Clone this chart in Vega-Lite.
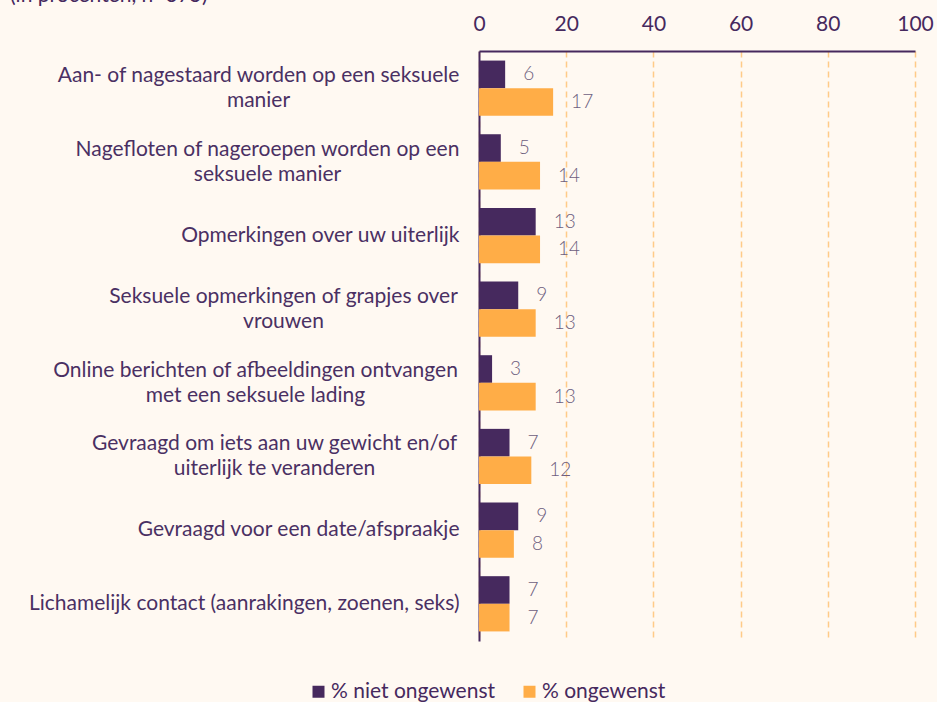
{
  "$schema": "https://vega.github.io/schema/vega-lite/v6.json",
  "width": 436,
  "height": 590,
  "autosize": "none",
  "padding": {"left": 479, "top": 51, "right": 22, "bottom": 61},
  "background": "#FFF9F2",
  "config": {"view": {"stroke": null}, "font": "Lato"},
  "title": {
    "text": "(in procenten, n=375)",
    "anchor": "start",
    "frame": "group",
    "dx": -469,
    "dy": 16,
    "offset": 6,
    "baseline": "alphabetic",
    "fontSize": 21,
    "fontWeight": "normal",
    "color": "#46295E"
  },
  "data": {
    "values": [
      {"item": "Aan- of nagestaard worden op een seksuele|manier", "serie": "% niet ongewenst", "value": 6},
      {"item": "Aan- of nagestaard worden op een seksuele|manier", "serie": "% ongewenst", "value": 17},
      {"item": "Nagefloten of nageroepen worden op een|seksuele manier", "serie": "% niet ongewenst", "value": 5},
      {"item": "Nagefloten of nageroepen worden op een|seksuele manier", "serie": "% ongewenst", "value": 14},
      {"item": "Opmerkingen over uw uiterlijk", "serie": "% niet ongewenst", "value": 13},
      {"item": "Opmerkingen over uw uiterlijk", "serie": "% ongewenst", "value": 14},
      {"item": "Seksuele opmerkingen of grapjes over|vrouwen", "serie": "% niet ongewenst", "value": 9},
      {"item": "Seksuele opmerkingen of grapjes over|vrouwen", "serie": "% ongewenst", "value": 13},
      {"item": "Online berichten of afbeeldingen ontvangen|met een seksuele lading", "serie": "% niet ongewenst", "value": 3},
      {"item": "Online berichten of afbeeldingen ontvangen|met een seksuele lading", "serie": "% ongewenst", "value": 13},
      {"item": "Gevraagd om iets aan uw gewicht en/of|uiterlijk te veranderen", "serie": "% niet ongewenst", "value": 7},
      {"item": "Gevraagd om iets aan uw gewicht en/of|uiterlijk te veranderen", "serie": "% ongewenst", "value": 12},
      {"item": "Gevraagd voor een date/afspraakje", "serie": "% niet ongewenst", "value": 9},
      {"item": "Gevraagd voor een date/afspraakje", "serie": "% ongewenst", "value": 8},
      {"item": "Lichamelijk contact (aanrakingen, zoenen, seks)", "serie": "% niet ongewenst", "value": 7},
      {"item": "Lichamelijk contact (aanrakingen, zoenen, seks)", "serie": "% ongewenst", "value": 7}
    ]
  },
  "encoding": {
    "y": {
      "field": "item",
      "type": "nominal",
      "sort": null,
      "scale": {"paddingInner": 0.25, "paddingOuter": 0.13},
      "axis": {
        "title": null,
        "labelExpr": "split(datum.label, '|')",
        "labelFontSize": 21,
        "labelColor": "#4A3063",
        "labelLineHeight": 25,
        "labelAlign": {"condition": {"test": "indexof(datum.value, '|') >= 0", "value": "center"}, "value": "right"},
        "labelOffset": {"condition": {"test": "indexof(datum.value, '|') >= 0", "value": -12}, "value": 0},
        "labelPadding": {
          "condition": [
            {"test": "indexof(datum.value, 'Aan-') == 0", "value": 221},
            {"test": "indexof(datum.value, 'Nagefloten') == 0", "value": 212},
            {"test": "indexof(datum.value, 'Seksuele') == 0", "value": 196},
            {"test": "indexof(datum.value, 'Online') == 0", "value": 224},
            {"test": "indexof(datum.value, 'Gevraagd om') == 0", "value": 205}
          ],
          "value": 20
        },
        "labelLimit": 600,
        "ticks": false,
        "domainColor": "#46295E",
        "domainWidth": 2,
        "grid": false
      }
    },
    "yOffset": {"field": "serie", "type": "nominal", "sort": ["% niet ongewenst", "% ongewenst"]},
    "x": {
      "field": "value",
      "type": "quantitative",
      "scale": {"domain": [0, 100], "nice": false},
      "axis": {
        "orient": "top",
        "title": null,
        "values": [0, 20, 40, 60, 80, 100],
        "labelFontSize": 21,
        "labelColor": "#46295E",
        "labelPadding": 17,
        "labelFlush": false,
        "ticks": false,
        "domainColor": "#46295E",
        "domainWidth": 2,
        "grid": true,
        "gridColor": "#FFCB88",
        "gridDash": [6, 4],
        "gridWidth": 1.5
      }
    }
  },
  "layer": [
    {
      "mark": {"type": "bar"},
      "encoding": {
        "color": {
          "field": "serie",
          "type": "nominal",
          "sort": ["% niet ongewenst", "% ongewenst"],
          "scale": {"domain": ["% niet ongewenst", "% ongewenst"], "range": ["#46295E", "#FFAD47"]},
          "legend": {
            "title": null,
            "orient": "none",
            "direction": "horizontal",
            "legendX": -171,
            "legendY": 630,
            "symbolType": "square",
            "symbolSize": 144,
            "symbolStrokeWidth": 0,
            "labelFontSize": 21,
            "labelLimit": 400,
            "labelColor": "#46295E",
            "labelOffset": 2,
            "columnPadding": 23
          }
        }
      }
    },
    {
      "mark": {"type": "text", "align": "left", "baseline": "middle", "dx": 18, "fontSize": 19, "fontWeight": 300, "color": "#6E5E7E"},
      "encoding": {"text": {"field": "value", "type": "quantitative"}}
    }
  ]
}
